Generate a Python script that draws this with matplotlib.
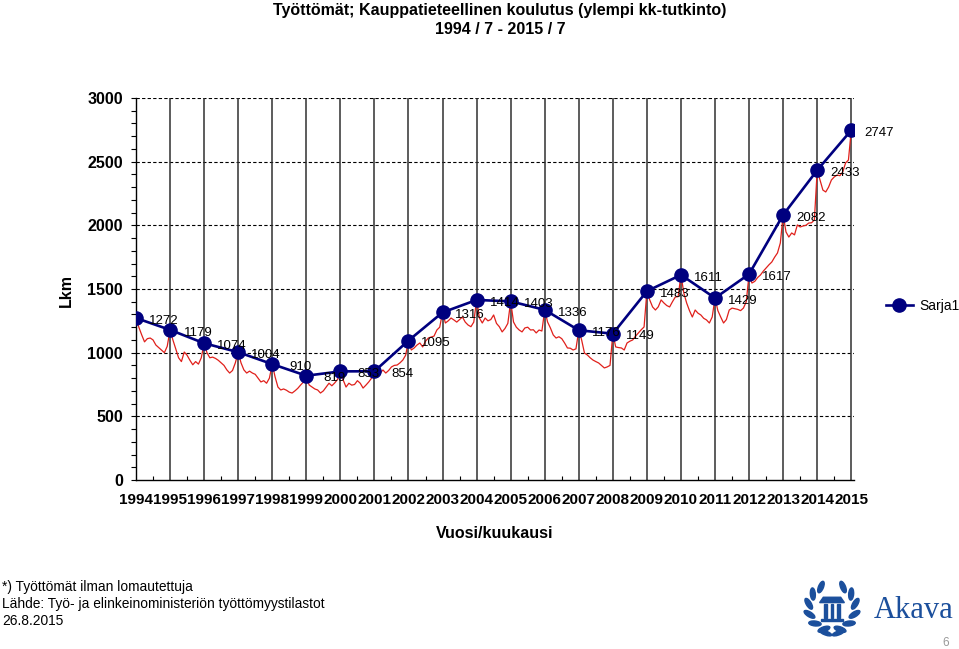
import matplotlib
matplotlib.use("Agg")
import matplotlib.pyplot as plt
from matplotlib.patches import Ellipse, Polygon, Rectangle
import numpy as np

# ---------------- data ----------------
title_line1 = "Työttömät; Kauppatieteellinen koulutus (ylempi kk-tutkinto)"
title_line2 = "1994 / 7 - 2015 / 7"
years = list(range(1994, 2016))
july_values = [1272, 1179, 1074, 1004, 910, 819, 853, 854, 1095, 1316, 1414,
               1403, 1336, 1176, 1149, 1483, 1611, 1429, 1617, 2082, 2433, 2747]

# monthly values, July..June for each season
m_1994 = [1272, 1200, 1140, 1085, 1110, 1115, 1100, 1060, 1040, 1020, 1000, 1050]
m_1995 = [1179, 1100, 1030, 960, 930, 1005, 980, 940, 905, 930, 910, 960]
m_1996 = [1074, 1000, 960, 965, 955, 940, 920, 900, 865, 840, 860, 920]
m_1997 = [1004, 920, 865, 840, 855, 840, 830, 800, 770, 780, 760, 800]
m_1998 = [910, 810, 730, 707, 715, 705, 690, 683, 700, 720, 746, 770]
m_1999 = [819, 746, 730, 715, 707, 683, 700, 730, 760, 740, 762, 790]
m_2000 = [853, 785, 730, 760, 745, 750, 780, 760, 722, 745, 770, 800]
m_2001 = [854, 809, 840, 864, 840, 860, 888, 900, 903, 920, 942, 980]
m_2002 = [1095, 1021, 1037, 1060, 1076, 1045, 1090, 1115, 1123, 1130, 1178, 1200]
m_2003 = [1316, 1233, 1250, 1272, 1257, 1240, 1260, 1280, 1240, 1217, 1204, 1240]
m_2004 = [1414, 1272, 1233, 1272, 1250, 1260, 1296, 1230, 1204, 1163, 1190, 1230]
m_2005 = [1403, 1241, 1200, 1178, 1163, 1194, 1200, 1178, 1180, 1155, 1178, 1170]
m_2006 = [1336, 1241, 1194, 1139, 1115, 1125, 1110, 1076, 1037, 1035, 1021, 1030]
m_2007 = [1176, 1100, 997, 982, 960, 942, 930, 919, 900, 880, 888, 900]
m_2008 = [1149, 1045, 1040, 1037, 1021, 1076, 1090, 1100, 1130, 1155, 1180, 1202]
m_2009 = [1483, 1414, 1359, 1335, 1360, 1414, 1390, 1370, 1359, 1400, 1437, 1440]
m_2010 = [1611, 1469, 1390, 1330, 1280, 1335, 1310, 1296, 1270, 1257, 1233, 1280]
m_2011 = [1429, 1330, 1280, 1233, 1260, 1335, 1350, 1345, 1340, 1330, 1350, 1400]
m_2012 = [1617, 1547, 1560, 1590, 1610, 1640, 1665, 1690, 1712, 1750, 1783, 1861]
m_2013 = [2082, 1948, 1908, 1940, 1925, 2003, 1987, 1995, 2000, 2018, 2020, 2042]
m_2014 = [2433, 2356, 2277, 2262, 2300, 2356, 2380, 2395, 2390, 2420, 2490, 2513]
m_2015 = [2747]

seasons = [m_1994, m_1995, m_1996, m_1997, m_1998, m_1999, m_2000, m_2001,
           m_2002, m_2003, m_2004, m_2005, m_2006, m_2007, m_2008, m_2009,
           m_2010, m_2011, m_2012, m_2013, m_2014, m_2015]
monthly = [v for s in seasons for v in s]
monthly_x = [1994 + i / 12.0 for i in range(len(monthly))]

legend_label = "Sarja1"
y_label = "Lkm"
x_label = "Vuosi/kuukausi"
footer_lines = ["*) Työttömät ilman lomautettuja",
                "Lähde: Työ- ja elinkeinoministeriön työttömyystilastot",
                "26.8.2015"]

# ---------------- figure ----------------
plt.rcParams['font.family'] = ['Liberation Sans', 'DejaVu Sans']
W, H = 959, 649
fig = plt.figure(figsize=(W / 100, H / 100), dpi=100)

def fx(px):
    return px / W

def fy(py):
    return 1 - py / H

ax = fig.add_axes([fx(136), fy(480), fx(854) - fx(136), fy(98) - fy(480)])
ax.set_xlim(1994, 2015.08)
ax.set_ylim(0, 3000)

# grid lines
for yv in range(500, 3001, 500):
    ax.axhline(yv, color='black', lw=0.8, ls=(0, (3, 2)), zorder=1)
for yr in years:
    ax.axvline(yr, color='#303030', lw=1.1, zorder=1)

ax.plot(monthly_x, monthly, color='#e0201b', lw=0.9, zorder=2)
line, = ax.plot(years, july_values, color='#00007f', lw=1.9, marker='o',
                markersize=9.5, markerfacecolor='#00007f',
                markeredgecolor='#00007f', zorder=3)

for x, v in zip(years, july_values):
    ax.annotate(str(v), (x, v), xytext=(20, -2), textcoords='offset points',
                ha='center', va='center', fontsize=9.5, color='black', zorder=4)

ax.spines['top'].set_visible(False)
ax.spines['right'].set_visible(False)
ax.spines['left'].set_linewidth(1.0)
ax.spines['bottom'].set_linewidth(1.0)

ax.set_yticks(range(0, 3001, 500))
ax.set_yticks(range(0, 3001, 100), minor=True)
ax.set_yticklabels([str(v) for v in range(0, 3001, 500)], fontsize=11.5,
                   fontweight='bold')
ax.tick_params(axis='y', which='both', direction='out', length=3.5, width=0.8,
               pad=6)

ax.set_xticks(years)
ax.set_xticks([y + 0.5 for y in years[:-1]], minor=True)
ax.set_xticklabels([str(y) for y in years], fontsize=11, fontweight='bold')
ax.tick_params(axis='x', which='major', direction='in', length=0, pad=9)
ax.tick_params(axis='x', which='minor', direction='in', length=3, width=0.8)

fig.text(fx(66), fy(290), y_label, rotation=90, ha='center', va='center',
         fontsize=11.5, fontweight='bold')
fig.text(fx(495), fy(533), x_label, ha='center', va='center',
         fontsize=11.5, fontweight='bold')

fig.text(fx(500), fy(11), title_line1, ha='center', va='center',
         fontsize=11.5, fontweight='bold')
fig.text(fx(500), fy(30), title_line2, ha='center', va='center',
         fontsize=11.5, fontweight='bold')

fig.legend([line], [legend_label], loc='center left',
           bbox_to_anchor=(fx(880), fy(306)), frameon=False, fontsize=10,
           handlelength=2.0, handletextpad=0.4, borderaxespad=0)

for i, t in enumerate(footer_lines):
    fig.text(fx(2), fy(587 + 17 * i), t, ha='left', va='center', fontsize=9.9)

# ---- Akava logo approximation ----
blue = '#1b4f9c'
lax = fig.add_axes([fx(801), fy(638), fx(863) - fx(801), fy(577) - fy(638)])
lax.set_xlim(-1.25, 1.25)
lax.set_ylim(-1.25, 1.25)
lax.axis('off')
for side in (-1, 1):
    for ang in np.linspace(-70, 62, 6):
        a = np.deg2rad(ang)
        cx = side * 0.95 * np.cos(a)
        cy = 0.95 * np.sin(a)
        rot = side * (ang + 90 - 40)
        lax.add_patch(Ellipse((cx, cy), 0.5, 0.2, angle=rot, color=blue))
    lax.add_patch(Ellipse((side * 0.25, -1.05), 0.5, 0.16,
                          angle=side * 20, color=blue))
lax.add_patch(Polygon([[-0.5, 0.2], [0.5, 0.2], [0.35, 0.42], [-0.35, 0.42]],
                      color=blue))
for cxp in (-0.25, 0.0, 0.25):
    lax.add_patch(Rectangle((cxp - 0.06, -0.42), 0.12, 0.56, color=blue))
lax.add_patch(Rectangle((-0.45, -0.56), 0.9, 0.1, color=blue))

fig.text(fx(914), fy(611), "Akava", ha='center', va='center', fontsize=22,
         family='Liberation Serif', color=blue)
fig.text(fx(946), fy(643), "6", ha='center', va='center', fontsize=8.5,
         color='#999999')

fig.savefig("out.png", dpi=100)
